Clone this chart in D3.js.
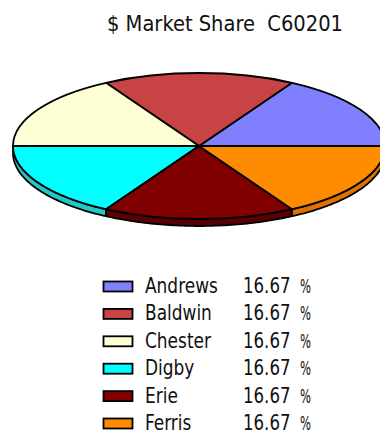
<!DOCTYPE html>
<html>
<head>
<meta charset="utf-8">
<script src="https://cdn.jsdelivr.net/npm/d3@7"></script>
<style>
  html, body { margin: 0; padding: 0; background: #fff; }
  svg { display: block; }
  .t { font-family: "DejaVu Sans Condensed", "DejaVu Sans", sans-serif; fill: #111; white-space: pre; }
</style>
</head>
<body>
<svg id="chart" width="380" height="437"></svg>
<script>
// Market share by company, round C60201
const companies = ["Andrews", "Baldwin", "Chester", "Digby", "Erie", "Ferris"];
const shares = [16.67, 16.67, 16.67, 16.67, 16.67, 16.67];
const topColors = ["#8080ff", "#c84444", "#ffffd6", "#00ffff", "#800000", "#ff8c00"];
const sideColors = ["#6060d0", "#a03030", "#d8d8b0", "#20c8c8", "#5a0000", "#e07000"];
const titleText = "$ Market Share  C60201";

const svg = d3.select("#chart");

// squeeze a text horizontally so the tall glyphs read narrow
function narrow(sel, k) {
  sel.each(function () {
    const w = this.getComputedTextLength();
    d3.select(this).attr("textLength", w * k).attr("lengthAdjust", "spacingAndGlyphs");
  });
  return sel;
}

// Title
svg.append("text")
  .attr("class", "t")
  .attr("x", 107).attr("y", 31)
  .attr("font-size", 21)
  .attr("textLength", 236)
  .attr("lengthAdjust", "spacingAndGlyphs")
  .text(titleText);

// Tilted pie geometry
const cx = 199, cy = 146, rx = 186, ry = 73, depth = 7;

// Slices run counter-clockwise starting at 3 o'clock
const pie = d3.pie().sort(null).value(d => d)
  .startAngle(Math.PI / 2).endAngle(Math.PI / 2 - 2 * Math.PI);
const arcs = pie(shares);

// point on the ellipse for a d3 angle (clockwise from 12 o'clock)
const pt = (a, dy = 0) => [cx + rx * Math.sin(a), cy - ry * Math.cos(a) + dy];
const line = d3.line();

const pieG = svg.append("g");

// Side walls: only the front half (angles PI/2..3PI/2) is visible
const TAU = 2 * Math.PI;
arcs.forEach((d, i) => {
  let a0 = Math.min(d.startAngle, d.endAngle), a1 = Math.max(d.startAngle, d.endAngle);
  while (a0 < 0) { a0 += TAU; a1 += TAU; }
  const lo = Math.max(a0, Math.PI / 2), hi = Math.min(a1, 3 * Math.PI / 2);
  if (hi <= lo) return;
  const steps = d3.range(0, 61).map(k => lo + (hi - lo) * k / 60);
  const pts = steps.map(a => pt(a)).concat(steps.slice().reverse().map(a => pt(a, depth)));
  pieG.append("path")
    .attr("d", line(pts) + "Z")
    .attr("fill", sideColors[i])
    .attr("stroke", "#000")
    .attr("stroke-width", 1.8)
    .attr("stroke-linejoin", "round");
});

// Top faces: circular arcs squashed into an ellipse
const arcGen = d3.arc().innerRadius(0).outerRadius(rx);
const faceG = pieG.append("g")
  .attr("transform", `translate(${cx},${cy}) scale(1,${ry / rx})`);
faceG.selectAll("path")
  .data(arcs)
  .join("path")
  .attr("d", arcGen)
  .attr("fill", (d, i) => topColors[i])
  .attr("stroke", "#000")
  .attr("stroke-width", 1.8)
  .attr("vector-effect", "non-scaling-stroke")
  .attr("stroke-linejoin", "round");

// Legend
const rowY = d3.scalePoint().domain(companies).range([286, 423]);
const fmt = d3.format(".2f");
const leg = svg.append("g");
companies.forEach((c, i) => {
  const y = rowY(c);
  leg.append("rect")
    .attr("x", 103.5).attr("y", y - 4.5)
    .attr("width", 29).attr("height", 10)
    .attr("fill", topColors[i])
    .attr("stroke", "#000").attr("stroke-width", 1.8);
  narrow(leg.append("text").attr("class", "t")
    .attr("x", 145).attr("y", y + 7)
    .attr("font-size", 20.5)
    .text(c), 0.92);
  narrow(leg.append("text").attr("class", "t")
    .attr("x", 243).attr("y", y + 7)
    .attr("font-size", 20.5)
    .text(fmt(shares[i])), 0.9);
  leg.append("text").attr("class", "t")
    .attr("x", 300).attr("y", y + 7)
    .attr("font-size", 20)
    .attr("textLength", 11)
    .attr("lengthAdjust", "spacingAndGlyphs")
    .text("%");
});
</script>
</body>
</html>
